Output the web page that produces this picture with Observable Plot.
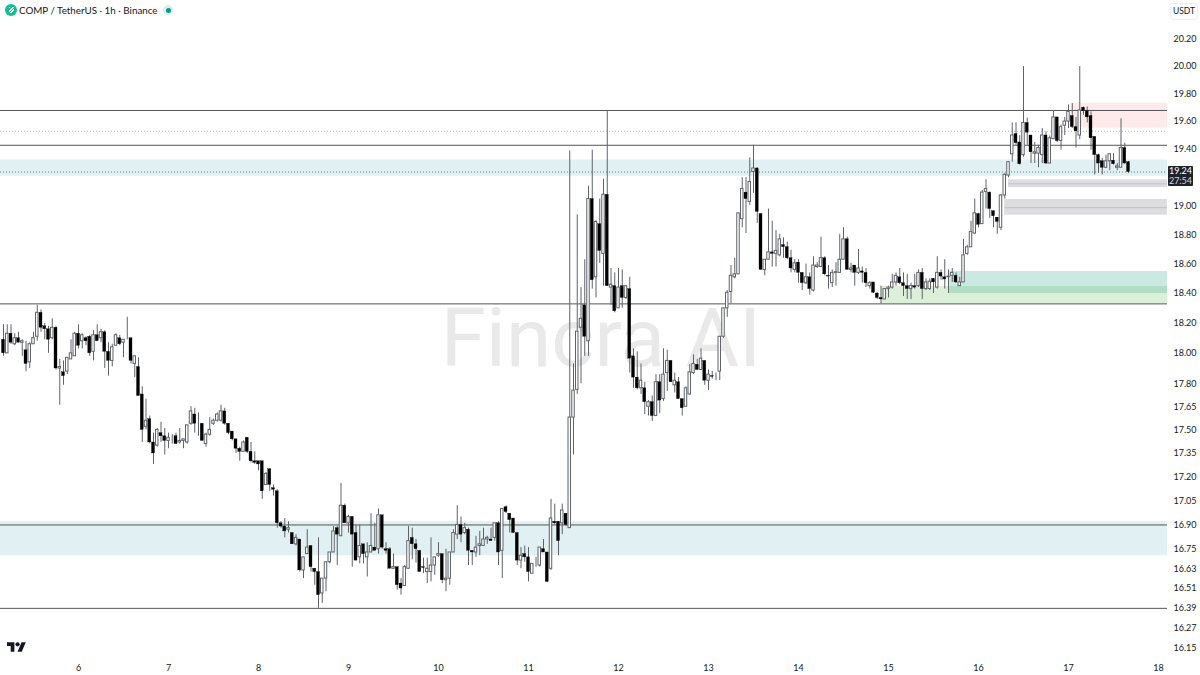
<!DOCTYPE html>
<html><head><meta charset="utf-8">
<script src="https://cdn.jsdelivr.net/npm/d3@7"></script>
<script src="https://cdn.jsdelivr.net/npm/@observablehq/plot@0.6"></script>
<style>
html,body{margin:0;padding:0;background:#fff;}
#wrap{position:relative;width:1200px;height:675px;overflow:hidden;font-family:"Lato","Open Sans",sans-serif;}
#wrap svg.plot{display:block;}
.hdr{position:absolute;left:19px;top:3px;font-size:9.8px;line-height:15px;color:#131722;white-space:pre;}
.ico{position:absolute;left:5px;top:4px;width:12px;height:12px;border-radius:50%;background:#12c08f;}
.ico:after{content:"";position:absolute;left:3.5px;top:3px;width:5px;height:6px;background:repeating-linear-gradient(135deg,#fff 0 1.2px,#12c08f 1.2px 2.4px);}
.halo{position:absolute;left:163px;top:5px;width:10px;height:10px;border-radius:50%;background:#d9efec;}
.dot{position:absolute;left:165.5px;top:7.5px;width:5px;height:5px;border-radius:50%;background:#089981;}
.cur{position:absolute;left:1170px;top:3px;width:26px;height:15px;border:1px solid #eceef2;border-radius:3px;font:8.5px/15px "Lato","Open Sans",sans-serif;color:#131722;text-align:center;box-sizing:content-box;}
.tag{position:absolute;left:1168px;top:166px;width:25px;height:20px;background:#1e222d;border-radius:1px;color:#fff;font:9px/10px "Lato","Open Sans",sans-serif;text-align:center;}
.tag span{display:block;color:#d5d7de;}
.tv{position:absolute;left:7px;top:640px;}
</style></head><body>
<div id="wrap"></div>
<script>
const firstHour = -20;
const opens = [
18.09,18.00,18.13,18.06,18.10,18.07,18.02,17.94,18.06,18.11,
18.27,18.18,18.16,18.10,18.17,17.90,17.875,17.88,17.96,17.98,
18.13,18.08,18.10,18.11,18.01,18.12,18.10,18.14,18.01,17.95,
18.05,18.10,18.07,18.10,18.10,17.93,17.91,17.73,17.52,17.57,
17.42,17.40,17.48,17.46,17.43,17.46,17.46,17.42,17.43,17.42,
17.54,17.60,17.53,17.54,17.41,17.47,17.54,17.56,17.56,17.62,
17.54,17.49,17.44,17.38,17.36,17.45,17.36,17.30,17.30,17.30,
17.15,17.25,17.13,17.11,16.91,16.89,16.87,16.85,16.78,16.81,
16.62,16.72,16.77,16.63,16.61,16.48,16.57,16.67,16.73,16.88,
16.83,17.02,16.91,16.95,16.85,16.70,16.78,16.70,16.73,16.76,
16.75,16.96,16.75,16.75,16.63,16.64,16.54,16.525,16.63,16.82,
16.78,16.74,16.64,16.61,16.61,16.65,16.71,16.72,16.56,16.57,
16.73,16.84,16.90,16.85,16.87,16.74,16.73,16.77,16.77,16.81,
16.81,16.82,16.91,16.74,17.01,16.97,16.94,16.85,16.68,16.72,
16.70,16.60,16.65,16.65,16.75,16.73,16.63,16.92,16.92,16.91,
16.97,16.88,17.58,17.76,18.17,18.32,18.08,19.05,18.51,18.875,
18.67,19.08,18.44,18.45,18.30,18.45,18.37,18.43,17.98,17.84,
17.77,17.77,17.65,17.68,17.59,17.81,17.70,17.87,17.95,17.79,
17.81,17.70,17.65,17.73,17.87,17.925,17.89,17.95,17.82,17.85,
17.86,17.88,18.11,18.30,18.41,18.51,18.53,18.91,19.095,19.03,
19.24,19.265,18.945,18.56,18.63,18.68,18.67,18.66,18.73,18.716,
18.64,18.56,18.61,18.54,18.47,18.51,18.42,18.58,18.58,18.64,
18.52,18.47,18.54,18.54,18.63,18.77,18.56,18.59,18.54,18.55,
18.54,18.45,18.475,18.40,18.37,18.36,18.43,18.44,18.475,18.51,
18.47,18.45,18.43,18.45,18.45,18.54,18.43,18.43,18.50,18.44,
18.54,18.51,18.51,18.52,18.52,18.45,18.475,18.67,18.715,18.81,
18.945,18.875,19.10,19.095,18.965,18.92,18.85,19.075,19.215,19.366,
19.51,19.45,19.36,19.59,19.50,19.37,19.37,19.36,19.50,19.30,
19.474,19.63,19.46,19.57,19.60,19.64,19.56,19.50,19.70,19.675,
19.64,19.49,19.36,19.316,19.27,19.316,19.32,19.27,19.27,19.41,
19.31];
const highs = [
18.19,18.19,18.19,18.13,18.14,18.09,18.08,18.07,18.14,18.32,
18.29,18.20,18.18,18.23,18.18,17.96,17.95,17.97,18.09,18.14,
18.19,18.13,18.11,18.12,18.15,18.19,18.16,18.15,18.07,18.06,
18.13,18.12,18.09,18.24,18.10,17.98,17.97,17.78,17.70,17.59,
17.48,17.51,17.55,17.51,17.48,17.47,17.48,17.51,17.44,17.53,
17.65,17.64,17.61,17.54,17.48,17.58,17.57,17.61,17.66,17.64,
17.54,17.49,17.44,17.39,17.43,17.45,17.42,17.36,17.30,17.30,
17.23,17.25,17.15,17.12,16.92,16.94,16.92,16.85,16.84,16.81,
16.70,16.87,16.77,16.63,16.82,16.57,16.67,16.73,16.89,16.89,
17.16,17.03,16.96,16.95,16.90,16.90,16.78,16.79,16.97,16.91,
17.00,16.96,16.79,16.76,16.72,16.64,16.57,16.65,16.89,16.88,
16.81,16.74,16.695,16.695,16.82,16.70,16.79,16.72,16.75,16.73,
16.87,17.02,16.95,16.91,16.88,16.74,16.83,16.86,16.88,16.83,
16.88,16.91,16.92,17.00,17.02,16.97,16.94,16.85,16.76,16.77,
16.76,16.66,16.70,16.76,16.81,16.73,17.06,17.03,16.92,17.03,
16.97,19.39,17.93,18.94,18.44,18.63,19.14,19.395,18.90,19.05,
19.19,19.68,18.57,18.54,18.57,18.56,18.45,18.51,18.03,18.01,
17.93,17.81,17.69,17.72,17.86,17.86,18.03,18.02,17.95,17.87,
17.84,17.70,17.78,17.925,17.99,17.96,18.03,17.95,17.89,17.88,
17.87,18.11,18.30,18.42,18.59,18.64,18.95,19.20,19.20,19.34,
19.43,19.27,18.95,18.63,18.98,18.895,18.83,18.805,18.78,18.75,
18.695,18.63,18.63,18.54,18.60,18.54,18.65,18.61,18.785,18.65,
18.59,18.56,18.61,18.805,18.85,18.785,18.605,18.59,18.70,18.58,
18.57,18.48,18.475,18.405,18.45,18.43,18.45,18.53,18.54,18.57,
18.54,18.53,18.47,18.53,18.56,18.57,18.50,18.50,18.50,18.65,
18.56,18.63,18.56,18.57,18.54,18.51,18.77,18.73,18.895,19.05,
18.95,19.11,19.185,19.10,18.965,18.92,19.08,19.23,19.31,19.59,
19.59,19.50,20.00,19.625,19.50,19.45,19.43,19.55,19.525,19.495,
19.68,19.63,19.575,19.63,19.72,19.73,19.63,20.00,19.705,19.705,
19.67,19.49,19.366,19.337,19.36,19.37,19.37,19.30,19.62,19.445,
19.315];
const lows = [
17.98,18.00,18.06,18.05,18.07,17.98,17.88,17.90,18.06,18.08,
18.14,18.09,18.00,18.09,17.89,17.66,17.79,17.86,17.96,17.98,
18.03,18.03,18.05,17.98,17.95,18.08,18.07,17.90,17.85,17.91,
18.05,18.05,17.97,18.09,17.93,17.84,17.72,17.42,17.50,17.41,
17.28,17.39,17.42,17.34,17.38,17.41,17.41,17.41,17.38,17.41,
17.53,17.48,17.46,17.43,17.39,17.46,17.53,17.55,17.55,17.53,
17.47,17.43,17.35,17.30,17.36,17.35,17.29,17.28,17.24,17.06,
17.15,17.11,17.08,16.88,16.88,16.82,16.85,16.78,16.77,16.61,
16.57,16.72,16.61,16.53,16.39,16.42,16.49,16.66,16.73,16.65,
16.83,16.91,16.85,16.64,16.68,16.66,16.66,16.58,16.73,16.74,
16.72,16.75,16.72,16.63,16.63,16.50,16.47,16.525,16.63,16.685,
16.665,16.61,16.60,16.54,16.55,16.59,16.70,16.54,16.49,16.53,
16.73,16.81,16.79,16.84,16.65,16.65,16.70,16.71,16.77,16.78,
16.80,16.80,16.65,16.57,16.97,16.85,16.85,16.65,16.63,16.67,
16.55,16.60,16.64,16.64,16.73,16.545,16.62,16.90,16.71,16.84,
16.89,16.88,17.34,17.73,17.80,17.98,17.98,18.43,18.37,18.605,
18.45,18.45,18.32,18.27,18.30,18.30,18.36,17.87,17.77,17.76,
17.73,17.60,17.59,17.555,17.59,17.605,17.685,17.75,17.81,17.74,
17.70,17.59,17.65,17.725,17.86,17.89,17.89,17.79,17.755,17.83,
17.82,17.82,18.10,18.24,18.33,18.50,18.53,18.85,18.81,19.005,
19.09,18.88,18.56,18.52,18.63,18.58,18.58,18.65,18.64,18.63,
18.54,18.54,18.47,18.42,18.46,18.39,18.41,18.57,18.58,18.52,
18.43,18.44,18.45,18.54,18.63,18.56,18.54,18.45,18.53,18.47,
18.44,18.43,18.40,18.36,18.33,18.36,18.37,18.43,18.45,18.46,
18.38,18.36,18.36,18.43,18.44,18.36,18.42,18.42,18.40,18.43,
18.49,18.43,18.40,18.475,18.47,18.45,18.475,18.66,18.715,18.805,
18.85,18.875,18.98,18.915,18.85,18.805,18.83,19.05,19.20,19.31,
19.43,19.29,19.345,19.43,19.30,19.30,19.27,19.30,19.295,19.30,
19.47,19.45,19.395,19.50,19.55,19.55,19.41,19.47,19.645,19.59,
19.395,19.22,19.23,19.22,19.265,19.25,19.29,19.25,19.27,19.295,
19.23];
const closes = [
18.00,18.13,18.07,18.10,18.07,18.08,17.93,18.06,18.10,18.27,
18.17,18.16,18.09,18.17,17.90,17.91,17.85,17.97,18.00,18.13,
18.05,18.12,18.08,18.00,18.12,18.08,18.14,18.01,17.95,18.04,
18.12,18.06,18.09,18.10,17.95,17.98,17.72,17.50,17.56,17.42,
17.35,17.50,17.46,17.43,17.45,17.46,17.41,17.43,17.44,17.53,
17.62,17.54,17.53,17.43,17.47,17.50,17.56,17.60,17.62,17.54,
17.48,17.44,17.38,17.36,17.42,17.36,17.30,17.29,17.28,17.11,
17.22,17.15,17.12,16.91,16.89,16.86,16.88,16.78,16.82,16.62,
16.70,16.76,16.64,16.61,16.47,16.57,16.67,16.73,16.86,16.84,
17.02,16.91,16.95,16.84,16.68,16.77,16.72,16.73,16.77,16.74,
16.96,16.76,16.74,16.63,16.64,16.53,16.51,16.64,16.80,16.78,
16.75,16.61,16.635,16.63,16.65,16.70,16.72,16.56,16.57,16.73,
16.85,16.90,16.84,16.88,16.74,16.73,16.76,16.78,16.81,16.82,
16.80,16.91,16.73,17.00,16.98,16.93,16.85,16.68,16.71,16.70,
16.61,16.66,16.65,16.76,16.73,16.55,16.94,16.91,16.80,16.99,
16.90,17.58,17.755,18.144,18.23,18.11,19.05,18.49,18.89,18.69,
19.08,18.45,18.46,18.28,18.44,18.37,18.45,17.965,17.84,17.77,
17.82,17.68,17.68,17.59,17.81,17.69,17.86,17.95,17.81,17.82,
17.70,17.64,17.77,17.875,17.93,17.89,17.965,17.82,17.86,17.845,
17.86,18.11,18.30,18.405,18.52,18.53,18.95,19.12,19.05,19.17,
19.265,18.96,18.56,18.63,18.68,18.67,18.69,18.77,18.716,18.64,
18.57,18.605,18.54,18.47,18.51,18.43,18.59,18.59,18.64,18.53,
18.515,18.54,18.545,18.63,18.77,18.56,18.57,18.54,18.57,18.54,
18.47,18.47,18.405,18.37,18.36,18.43,18.44,18.475,18.52,18.47,
18.45,18.43,18.45,18.44,18.54,18.43,18.475,18.48,18.475,18.54,
18.515,18.495,18.515,18.54,18.475,18.475,18.66,18.715,18.82,18.95,
18.87,19.095,19.12,18.98,18.93,18.89,19.075,19.22,19.31,19.50,
19.445,19.295,19.59,19.52,19.38,19.38,19.41,19.50,19.30,19.48,
19.63,19.46,19.56,19.60,19.67,19.56,19.53,19.68,19.676,19.63,
19.48,19.36,19.30,19.27,19.316,19.366,19.295,19.28,19.41,19.30,
19.24];

const yTicks = [20.20,20.00,19.80,19.60,19.40,19.00,18.80,18.60,18.40,18.20,18.00,17.80,17.65,17.50,17.35,17.20,17.05,16.90,16.75,16.63,16.51,16.39,16.27,16.15];
const dayLabels = [6,7,8,9,10,11,12,13,14,15,16,17,18];
const dayHours = [0,24,48,72,96,120,144,168,192,216,240,264,288];

const solidLevels = [19.68,19.43,18.33,16.90,16.39];
const fullBands = [{lo:19.21,hi:19.325},{lo:16.71,hi:16.92}];
const zoneEnd = 290.4;
const greyZones = [{from:248,lo:19.13,hi:19.185,mid:19.157},{from:247,lo:18.937,hi:19.047,mid:18.99}];
const redZone = [{from:265,lo:19.553,hi:19.733}];
const tealZone = [{from:232.3,lo:18.40,hi:18.55}];
const greenZone = [{from:214,lo:18.33,hi:18.447}];

const candles = closes.map((c,i)=>({h:firstHour+i,o:opens[i],hi:highs[i],lo:lows[i],c}));
const up = candles.filter(d=>d.c>=d.o), down = candles.filter(d=>d.c<d.o);
const wick = "#5f6369";
const zoneRect = (data,fill,opacity=1)=>Plot.rect(data,{x1:"from",x2:()=>zoneEnd,y1:"lo",y2:"hi",fill,fillOpacity:opacity});

const chart = Plot.plot({
  width:1200,height:675,
  marginTop:0,marginLeft:0,marginRight:33,marginBottom:12,
  style:{background:"#fff",fontFamily:'"Lato","Open Sans",sans-serif',overflow:"hidden"},
  x:{type:"linear",domain:[-20.8,299.2],range:[0,1200]},
  y:{type:"log",domain:[20.2,16.15],range:[39,648]},
  marks:[
    Plot.rect(fullBands,{y1:"lo",y2:"hi",fill:"#e0f0f3"}),
    zoneRect(greenZone,"#dcefd9"),
    zoneRect(tealZone,"#30a98c",0.25),
    zoneRect(redZone,"#feeaea"),
    zoneRect(greyZones,"#dddcdf"),
    Plot.ruleY(greyZones,{y:"mid",x1:"from",x2:()=>zoneEnd,stroke:"#cdbcd0",strokeWidth:1}),
    Plot.text(["Fincra AI"],{frameAnchor:"middle",dx:17,dy:8,fontSize:82,fill:"#e9e9ea",fontFamily:"Roboto",fontWeight:400}),
    Plot.ruleY(solidLevels,{stroke:"#555",strokeWidth:1}),
    Plot.ruleY([19.53],{stroke:"#bbb",strokeDasharray:"1 2"}),
    Plot.ruleY([19.24],{stroke:"#6b7b80",strokeDasharray:"1 2"}),
    Plot.ruleX(candles,{x:"h",y1:"lo",y2:"hi",stroke:wick,strokeWidth:1}),
    Plot.rect(up,{x1:d=>d.h-0.33,x2:d=>d.h+0.33,y1:"o",y2:"c",fill:"#fff",stroke:wick,strokeWidth:1}),
    Plot.rect(down,{x1:d=>d.h-0.4,x2:d=>d.h+0.4,y1:"o",y2:"c",fill:"#000",stroke:"#000",strokeWidth:0.3}),
    Plot.axisY(yTicks,{anchor:"right",tickSize:0,tickPadding:6,label:null,tickFormat:d=>d.toFixed(2),fontSize:9,fill:"#131722"}),
    Plot.axisX(dayHours,{anchor:"bottom",tickSize:0,tickPadding:1,label:null,tickFormat:d=>dayLabels[dayHours.indexOf(d)],fontSize:9,fill:"#131722"})
  ]
});
const wrap = document.getElementById("wrap");
wrap.appendChild(chart);
wrap.insertAdjacentHTML("beforeend",`
<div class="ico"></div>
<div class="hdr">COMP / TetherUS · 1h · Binance</div>
<div class="halo"></div><div class="dot"></div>
<div class="cur">USDT</div>
<div class="tag">19.24<span>27:54</span></div>
<svg class="tv" width="19" height="15" viewBox="0 0 36 28" fill="#131722"><path d="M14 22H7V11H0V4h14v18zM28 22h-8l7.5-18h8L28 22z"/><circle cx="20" cy="8" r="4"/></svg>`);
</script>
</body></html>
